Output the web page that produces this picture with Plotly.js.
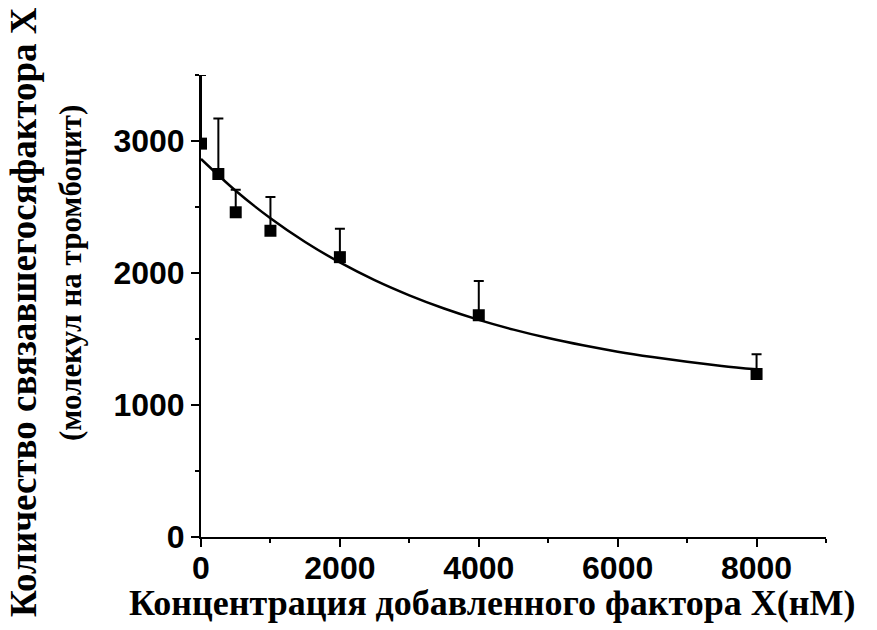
<!DOCTYPE html>
<html>
<head>
<meta charset="utf-8">
<script src="https://cdn.plot.ly/plotly-3.0.1.min.js"></script>
<style>
  html, body { margin: 0; padding: 0; background: #fff; }
  #chart { width: 877px; height: 630px; }
</style>
</head>
<body>
<div id="chart"></div>
<script>
// Added factor X concentration, nM
const concentration = [0, 250, 500, 1000, 2000, 4000, 8000];
// Bound factor X, molecules per platelet (mean)
const boundMolecules = [2980, 2750, 2460, 2320, 2120, 1680, 1235];
// Upper error (SD)
const boundError = [520, 420, 170, 255, 215, 260, 150];

// Fitted decay curve
const fitConcentration = [0, 500, 1000, 1500, 2000, 2500, 3000, 3500, 4000,
                          4500, 5000, 5500, 6000, 6500, 7000, 7500, 8000];
const fitMolecules = [2864, 2623, 2415, 2235, 2080, 1946, 1831, 1731, 1645,
                      1571, 1507, 1452, 1404, 1363, 1327, 1296, 1270];

const xTickVals = [0, 2000, 4000, 6000, 8000];
const yTickVals = [0, 1000, 2000, 3000];

const tickFont = { family: 'Liberation Sans, Arial, sans-serif', size: 32, color: '#000', weight: 'bold' };
const serif = 'Liberation Serif, Times New Roman, serif';

const traces = [
  {
    x: fitConcentration,
    y: fitMolecules,
    mode: 'lines',
    line: { color: '#000', width: 2.5, shape: 'spline' },
    hoverinfo: 'skip'
  },
  {
    x: concentration,
    y: boundMolecules,
    mode: 'markers',
    marker: { symbol: 'square', size: 12, color: '#000' },
    error_y: {
      type: 'data',
      symmetric: false,
      array: boundError,
      arrayminus: concentration.map(() => 0),
      color: '#000',
      thickness: 2,
      width: 5
    }
  }
];

const axisCommon = {
  showgrid: false,
  zeroline: false,
  showline: true,
  linecolor: '#000',
  linewidth: 2,
  ticks: 'outside',
  ticklen: 8,
  tickwidth: 2,
  tickcolor: '#000',
  tickfont: tickFont
};

const layout = {
  width: 877,
  height: 630,
  margin: { l: 201, r: 51, t: 75, b: 93 },
  paper_bgcolor: '#fff',
  plot_bgcolor: '#fff',
  showlegend: false,
  xaxis: Object.assign({}, axisCommon, {
    range: [0, 9000],
    tickvals: xTickVals,
    ticktext: xTickVals.map(String),
    ticklabelstandoff: -6,
    minor: { dtick: 1000, tick0: 0, ticks: 'outside', ticklen: 4, tickwidth: 2, tickcolor: '#000', showgrid: false }
  }),
  yaxis: Object.assign({}, axisCommon, {
    range: [0, 3500],
    tickvals: yTickVals,
    ticktext: yTickVals.map(String),
    minor: { dtick: 500, tick0: 0, ticks: 'outside', ticklen: 4, tickwidth: 2, tickcolor: '#000', showgrid: false }
  }),
  annotations: [
    {
      text: '<b>Концентрация добавленного фактора X(нМ)</b>',
      xref: 'paper', yref: 'paper',
      x: 0.466, y: -0.142,
      xanchor: 'center', yanchor: 'middle',
      showarrow: false,
      font: { family: serif, size: 36, color: '#000' }
    },
    {
      text: '<b>Количество связавшегосяфактора X</b>',
      xref: 'paper', yref: 'paper',
      x: -0.285, y: 0.487,
      xanchor: 'center', yanchor: 'middle',
      textangle: -90,
      showarrow: false,
      font: { family: serif, size: 37, color: '#000' }
    },
    {
      text: '<b>(молекул на тромбоцит)</b>',
      xref: 'paper', yref: 'paper',
      x: -0.209, y: 0.572,
      xanchor: 'center', yanchor: 'middle',
      textangle: -90,
      showarrow: false,
      font: { family: serif, size: 31, color: '#000' }
    }
  ]
};

Plotly.newPlot('chart', traces, layout, { displayModeBar: false, staticPlot: true });
</script>
</body>
</html>
